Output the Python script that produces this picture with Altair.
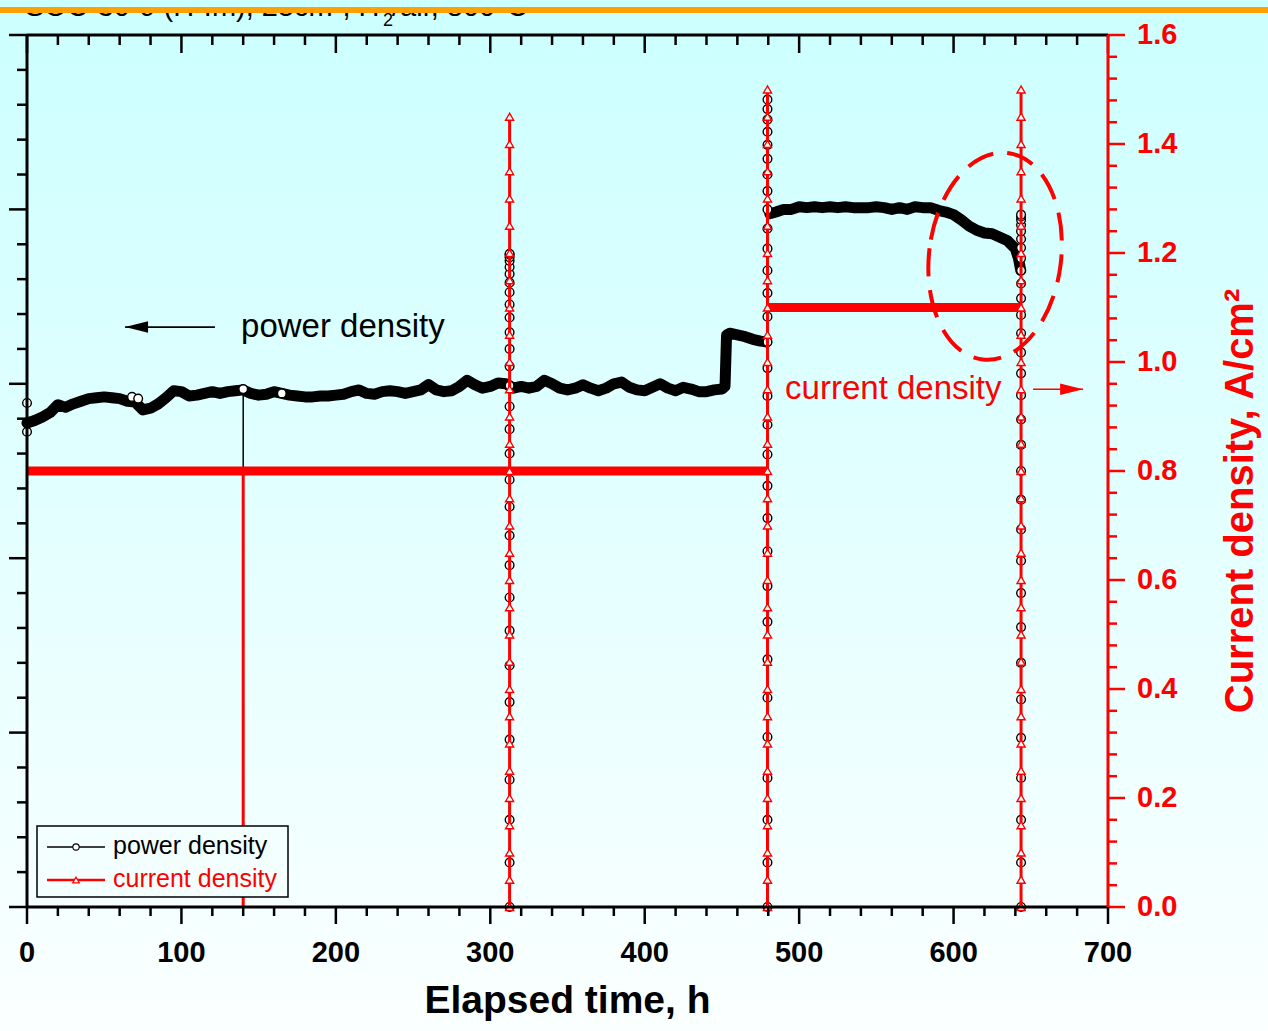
import altair as alt
import pandas as pd

FONT = "Liberation Sans"
W, H = 1081, 872
RED = "#ff0000"

# ---------------- data ----------------
time_h = [0, 5, 10, 15, 20, 25, 30, 35, 40, 45,
          50, 55, 60, 65, 70, 75, 80, 85, 90, 95,
          100, 105, 110, 115, 120, 125, 130, 135, 140, 145,
          150, 155, 160, 165, 170, 175, 180, 185, 190, 195,
          200, 205, 210, 215, 220, 225, 230, 235, 240, 245,
          250, 255, 260, 265, 270, 275, 280, 285, 290, 295,
          300, 305, 310, 315, 320, 325, 330, 335, 340, 345,
          350, 355, 360, 365, 370, 375, 380, 385, 390, 395,
          400, 405, 410, 415, 420, 425, 430, 435, 440, 445,
          450, 452, 453, 455, 460, 465, 470, 475, 479, 481,
          485, 490, 495, 500, 505, 510, 515, 520, 525, 530,
          535, 540, 545, 550, 555, 560, 565, 570, 575, 580,
          585, 590, 595, 600, 605, 610, 615, 620, 625, 630,
          635, 640, 642, 643.5]
power = [0.555, 0.558, 0.562, 0.567, 0.576, 0.573, 0.577, 0.580, 0.583, 0.584,
         0.585, 0.584, 0.583, 0.580, 0.579, 0.570, 0.572, 0.577, 0.584, 0.592,
         0.591, 0.586, 0.587, 0.589, 0.591, 0.589, 0.591, 0.592, 0.593, 0.589,
         0.587, 0.588, 0.591, 0.589, 0.587, 0.586, 0.585, 0.585, 0.586, 0.586,
         0.587, 0.588, 0.591, 0.593, 0.589, 0.588, 0.591, 0.592, 0.591, 0.589,
         0.591, 0.593, 0.599, 0.593, 0.591, 0.592, 0.597, 0.604, 0.599, 0.595,
         0.597, 0.601, 0.600, 0.595, 0.597, 0.595, 0.597, 0.604, 0.600, 0.595,
         0.593, 0.595, 0.599, 0.595, 0.592, 0.595, 0.600, 0.602, 0.596, 0.593,
         0.592, 0.596, 0.600, 0.595, 0.592, 0.596, 0.594, 0.591, 0.591, 0.593,
         0.594, 0.597, 0.656, 0.658, 0.656, 0.654, 0.651, 0.649, 0.648, 0.795,
         0.797, 0.800, 0.800, 0.803, 0.802, 0.803, 0.802, 0.803, 0.802, 0.803,
         0.802, 0.802, 0.802, 0.803, 0.802, 0.800, 0.802, 0.800, 0.803, 0.802,
         0.802, 0.799, 0.797, 0.794, 0.788, 0.781, 0.776, 0.773, 0.772, 0.768,
         0.764, 0.755, 0.744, 0.730]

extra_t = [0, 0, 68, 72, 140, 165]
extra_p = [0.578, 0.545, 0.585, 0.583, 0.594, 0.589]

sweep_times = [312.5, 479.5, 643.7]
sweep_current_1 = [0.00, 0.05, 0.10, 0.15, 0.20, 0.25, 0.30, 0.35, 0.40, 0.45,
                   0.50, 0.55, 0.60, 0.65, 0.70, 0.75, 0.80, 0.85, 0.90, 0.95,
                   1.00, 1.05, 1.10, 1.15, 1.20, 1.25, 1.30, 1.35, 1.40, 1.45]
sweep_power_1 = [0.000, 0.051, 0.100, 0.146, 0.192, 0.235, 0.277, 0.317, 0.355, 0.392,
                 0.426, 0.459, 0.490, 0.520, 0.548, 0.574, 0.598, 0.620, 0.640, 0.659,
                 0.676, 0.691, 0.705, 0.716, 0.726, 0.734, 0.741, 0.745, 0.748, 0.749]
sweep_current_2 = [0.00, 0.05, 0.10, 0.15, 0.20, 0.25, 0.30, 0.35, 0.40, 0.45,
                   0.50, 0.55, 0.60, 0.65, 0.70, 0.75, 0.80, 0.85, 0.90, 0.95,
                   1.00, 1.05, 1.10, 1.15, 1.20, 1.25, 1.30, 1.35, 1.40, 1.45, 1.50]
sweep_power_2 = [0.000, 0.051, 0.100, 0.148, 0.195, 0.240, 0.284, 0.327, 0.368, 0.408,
                 0.446, 0.483, 0.519, 0.553, 0.586, 0.618, 0.648, 0.677, 0.704, 0.730,
                 0.755, 0.778, 0.800, 0.821, 0.840, 0.858, 0.874, 0.889, 0.903, 0.915, 0.926]
sweep_current_3 = [0.00, 0.05, 0.10, 0.15, 0.20, 0.25, 0.30, 0.35, 0.40, 0.45,
                   0.50, 0.55, 0.60, 0.65, 0.70, 0.75, 0.80, 0.85, 0.90, 0.95,
                   1.00, 1.05, 1.10, 1.15, 1.20, 1.25, 1.30, 1.35, 1.40, 1.45, 1.50]
sweep_power_3 = [0.000, 0.051, 0.100, 0.148, 0.194, 0.238, 0.280, 0.321, 0.360, 0.397,
                 0.433, 0.467, 0.500, 0.530, 0.559, 0.587, 0.612, 0.636, 0.658, 0.679,
                 0.698, 0.715, 0.730, 0.744, 0.756, 0.766, 0.775, 0.782, 0.788, 0.792, 0.794]

hold_start = [0, 479.5]
hold_end = [479.5, 643.7]
hold_current = [0.8, 1.1]

interrupt_time = [140]
interrupt_power = [0.593]
interrupt_current = [0.8]

x_major = [0, 100, 200, 300, 400, 500, 600, 700]
x_labels = ["0", "100", "200", "300", "400", "500", "600", "700"]
x_minor = [v for v in range(0, 701, 20) if v not in x_major]
yl_major = [0.0, 0.2, 0.4, 0.6, 0.8, 1.0]
yl_minor = [round(i * 0.04, 2) for i in range(26) if i % 5 != 0]
yr_major = [0.0, 0.2, 0.4, 0.6, 0.8, 1.0, 1.2, 1.4, 1.6]
yr_labels = ["0.0", "0.2", "0.4", "0.6", "0.8", "1.0", "1.2", "1.4", "1.6"]
yr_minor = [round(i * 0.04, 2) for i in range(41) if i % 5 != 0]

x_title = "Elapsed time, h"
yr_title = "Current density, A/cm\u00b2"
legend_labels = ["power density", "current density"]
title_text = ["SOC-30-9 (H-Im), 25cm\u00b2, H", "2", "/air, 800\u00b0C"]

# ---------------- tables ----------------
steady = pd.DataFrame({"t": time_h, "p": power})
steady["band"] = ["A" if t < 480 else "B" for t in time_h]
extras = pd.DataFrame({"t": extra_t, "p": extra_p})
rows = []
for t0, cur, pw in zip(sweep_times,
                       [sweep_current_1, sweep_current_2, sweep_current_3],
                       [sweep_power_1, sweep_power_2, sweep_power_3]):
    for c, p in zip(cur, pw):
        rows.append({"t": t0, "i": c, "p": p})
sweeps = pd.DataFrame(rows)
sweep_lines = pd.DataFrame({"t": sweep_times,
                            "top": [max(sweep_current_1), max(sweep_current_2), max(sweep_current_3)],
                            "bottom": [0.0, 0.0, 0.0]})
holds = pd.DataFrame({"t0": hold_start, "t1": hold_end, "i": hold_current})
interrupt = pd.DataFrame({"t": interrupt_time, "p": interrupt_power,
                          "i": interrupt_current, "zero": [0.0]})
one = pd.DataFrame({"a": [0]})

xs = alt.Scale(domain=[0, 700], nice=False, zero=False)
yps = alt.Scale(domain=[0, 1], nice=False)
ycs = alt.Scale(domain=[0, 1.6], nice=False)


def X(f):
    return alt.X(f, scale=xs, axis=None)


def YP(f):
    return alt.Y(f, scale=yps, axis=None)


def YC(f):
    return alt.Y(f, scale=ycs, axis=None)


# ---------------- decoration ----------------
bg = alt.Chart(one).mark_rect(
    fill=alt.LinearGradient(gradient="linear",
                            stops=[alt.GradientStop(color="#ccffff", offset=0),
                                   alt.GradientStop(color="#fbffff", offset=1)],
                            x1=0, x2=0, y1=0, y2=1)
).encode(x=alt.value(-27), x2=alt.value(W + 160), y=alt.value(-35), y2=alt.value(H + 124))

t_df = pd.DataFrame({"txt": title_text, "px": [-2, 356, 365], "py": [-19, -9, -19]})
title_main = alt.Chart(t_df.iloc[[0, 2]]).mark_text(
    align="left", baseline="alphabetic", font=FONT, fontSize=29, color="black"
).encode(x=alt.X("px:Q", scale=None), y=alt.Y("py:Q", scale=None), text="txt:N")
title_sub = alt.Chart(t_df.iloc[[1]]).mark_text(
    align="left", baseline="alphabetic", font=FONT, fontSize=18, color="black"
).encode(x=alt.X("px:Q", scale=None), y=alt.Y("py:Q", scale=None), text="txt:N")
cover = alt.Chart(one).mark_rect(fill="#ccffff").encode(
    x=alt.value(-27), x2=alt.value(W + 160), y=alt.value(-35), y2=alt.value(-27))
orange = alt.Chart(one).mark_rule(color="#ffa000", strokeWidth=6).encode(
    x=alt.value(-27), x2=alt.value(W + 160), y=alt.value(-25))

# ---------------- power layer (left axis) ----------------
p_interrupt = alt.Chart(interrupt).mark_rule(color="black", strokeWidth=1.5).encode(
    x=X("t:Q"), y=YP("p:Q"), y2="zero:Q")
p_band = alt.Chart(steady).mark_line(color="black", strokeWidth=11, strokeCap="round",
                                     strokeJoin="round").encode(
    x=X("t:Q"), y=YP("p:Q"), detail="band:N")
p_sweep = alt.Chart(sweeps).mark_circle(fill="white", stroke="black", strokeWidth=1.4,
                                        size=75, opacity=1).encode(x=X("t:Q"), y=YP("p:Q"))
p_extra = alt.Chart(extras).mark_circle(fill="white", stroke="black", strokeWidth=1.4,
                                        size=75, opacity=1).encode(x=X("t:Q"), y=YP("p:Q"))

ann_p = pd.DataFrame({"t": [138.6], "p": [0.665], "txt": ["power density"],
                      "a0": [63.5], "a1": [121.7]})
p_text = alt.Chart(ann_p).mark_text(align="left", baseline="middle", font=FONT,
                                    fontSize=33, color="black").encode(
    x=X("t:Q"), y=YP("p:Q"), text="txt:N")
p_arrow = alt.Chart(ann_p).mark_rule(color="black", strokeWidth=1.6).encode(
    x=X("a0:Q"), x2="a1:Q", y=YP("p:Q"))
p_head = alt.Chart(ann_p).mark_point(shape="M 0 0 L 2 -0.5 L 2 0.5 Z", size=529,
                                     filled=True, color="black", opacity=1).encode(
    x=X("a0:Q"), y=YP("p:Q"))

yl_maj_t = alt.Chart(pd.DataFrame({"v": yl_major})).mark_rule(color="black", strokeWidth=2.5).encode(
    y=YP("v:Q"), x=alt.value(-18), x2=alt.value(0))
yl_min_t = alt.Chart(pd.DataFrame({"v": yl_minor})).mark_rule(color="black", strokeWidth=2.5).encode(
    y=YP("v:Q"), x=alt.value(-10), x2=alt.value(0))

power_layer = alt.layer(p_interrupt, p_band, p_sweep, p_extra, p_text, p_arrow, p_head,
                        yl_maj_t, yl_min_t)

# ---------------- current layer (right axis) ----------------
c_hold = alt.Chart(holds).mark_rule(color=RED, strokeWidth=9).encode(
    x=X("t0:Q"), x2="t1:Q", y=YC("i:Q"))
c_interrupt = alt.Chart(interrupt).mark_rule(color=RED, strokeWidth=3).encode(
    x=X("t:Q"), y=YC("i:Q"), y2="zero:Q")
c_sweepline = alt.Chart(sweep_lines).mark_rule(color=RED, strokeWidth=3).encode(
    x=X("t:Q"), y=YC("bottom:Q"), y2="top:Q")
c_tri = alt.Chart(sweeps).mark_point(shape="triangle-up", filled=True, fill="white",
                                     stroke=RED, strokeWidth=1.4, size=66, opacity=1).encode(
    x=X("t:Q"), y=YC("i:Q"))

ann_c = pd.DataFrame({"t": [490.9], "i": [0.950], "txt": ["current density"],
                      "a0": [651.5], "a1": [683.9], "et": [626.9], "ei": [1.194]})
c_text = alt.Chart(ann_c).mark_text(align="left", baseline="middle", font=FONT,
                                    fontSize=33, color=RED).encode(
    x=X("t:Q"), y=YC("i:Q"), text="txt:N")
c_arrow = alt.Chart(ann_c).mark_rule(color=RED, strokeWidth=1.6).encode(
    x=X("a0:Q"), x2="a1:Q", y=YC("i:Q"))
c_head = alt.Chart(ann_c).mark_point(shape="M 0 0 L -2 -0.5 L -2 0.5 Z", size=529,
                                     filled=True, color=RED, opacity=1).encode(
    x=X("a1:Q"), y=YC("i:Q"))
c_ellipse = alt.Chart(ann_c).mark_point(
    shape="M -0.635 0 A 0.635 1 0 1 0 0.635 0 A 0.635 1 0 1 0 -0.635 0 Z",
    size=43264, angle=7, filled=False, color=RED, strokeWidth=4,
    strokeDash=[28, 14], opacity=1).encode(x=X("et:Q"), y=YC("ei:Q"))

yr_maj_t = alt.Chart(pd.DataFrame({"v": yr_major})).mark_rule(color=RED, strokeWidth=2.5).encode(
    y=YC("v:Q"), x=alt.value(W), x2=alt.value(W + 17))
yr_min_t = alt.Chart(pd.DataFrame({"v": yr_minor})).mark_rule(color=RED, strokeWidth=2.5).encode(
    y=YC("v:Q"), x=alt.value(W), x2=alt.value(W + 9))
yr_lab = alt.Chart(pd.DataFrame({"v": yr_major, "lab": yr_labels})).mark_text(
    align="left", baseline="middle", font=FONT, fontSize=29, fontWeight="bold", color=RED
).encode(y=YC("v:Q"), x=alt.value(W + 29), text="lab:N")

current_layer = alt.layer(c_hold, c_interrupt, c_sweepline, c_tri, c_text, c_arrow,
                          c_head, c_ellipse, yr_maj_t, yr_min_t, yr_lab)

# ---------------- frame, ticks, labels, titles ----------------
top_line = alt.Chart(one).mark_rule(color="black", strokeWidth=3).encode(
    x=alt.value(0), x2=alt.value(W), y=alt.value(0))
top_major = alt.Chart(pd.DataFrame({"v": x_major})).mark_rule(color="black", strokeWidth=2.5).encode(
    x=X("v:Q"), y=alt.value(0), y2=alt.value(18))
top_minor = alt.Chart(pd.DataFrame({"v": x_minor})).mark_rule(color="black", strokeWidth=2.5).encode(
    x=X("v:Q"), y=alt.value(0), y2=alt.value(10))
bot_major = alt.Chart(pd.DataFrame({"v": x_major})).mark_rule(color="black", strokeWidth=2.5).encode(
    x=X("v:Q"), y=alt.value(H), y2=alt.value(H + 17))
bot_minor = alt.Chart(pd.DataFrame({"v": x_minor})).mark_rule(color="black", strokeWidth=2.5).encode(
    x=X("v:Q"), y=alt.value(H), y2=alt.value(H + 9))
x_lab = alt.Chart(pd.DataFrame({"v": x_major, "lab": x_labels})).mark_text(
    align="center", baseline="alphabetic", font=FONT, fontSize=29, fontWeight="bold",
    color="black").encode(x=X("v:Q"), y=alt.value(H + 55), text="lab:N")
left_line = alt.Chart(one).mark_rule(color="black", strokeWidth=3).encode(
    x=alt.value(0), y=alt.value(0), y2=alt.value(H))
bottom_line = alt.Chart(one).mark_rule(color="black", strokeWidth=3).encode(
    x=alt.value(0), x2=alt.value(W), y=alt.value(H))
right_line = alt.Chart(one).mark_rule(color=RED, strokeWidth=3).encode(
    x=alt.value(W), y=alt.value(0), y2=alt.value(H))
x_title_mark = alt.Chart(pd.DataFrame({"txt": [x_title]})).mark_text(
    align="center", baseline="alphabetic", font=FONT, fontSize=39, fontWeight="bold",
    color="black").encode(x=alt.value(W / 2), y=alt.value(H + 106), text="txt:N")
yr_title_mark = alt.Chart(pd.DataFrame({"txt": [yr_title]})).mark_text(
    align="center", baseline="alphabetic", font=FONT, fontSize=40, fontWeight="bold",
    color=RED, angle=270).encode(x=alt.value(W + 145), y=alt.value(466), text="txt:N")

# ---------------- legend box ----------------
lg = pd.DataFrame({"lab": legend_labels})
leg_box = alt.Chart(one).mark_rect(fill="#f3ffff", stroke="black", strokeWidth=1.5).encode(
    x=alt.value(10), x2=alt.value(261), y=alt.value(791), y2=alt.value(862))
leg_l1 = alt.Chart(one).mark_rule(color="black", strokeWidth=1.5).encode(
    x=alt.value(20), x2=alt.value(78), y=alt.value(812))
leg_l2 = alt.Chart(one).mark_rule(color=RED, strokeWidth=2.5).encode(
    x=alt.value(20), x2=alt.value(78), y=alt.value(845))
leg_m1 = alt.Chart(one).mark_circle(fill="white", stroke="black", strokeWidth=1.1, size=40,
                                    opacity=1).encode(x=alt.value(49), y=alt.value(812))
leg_m2 = alt.Chart(one).mark_point(shape="triangle-up", filled=True, fill="white", stroke=RED,
                                   strokeWidth=1.2, size=45, opacity=1).encode(
    x=alt.value(49), y=alt.value(845))
leg_t1 = alt.Chart(lg.iloc[[0]]).mark_text(align="left", baseline="middle", font=FONT,
                                           fontSize=25, color="black").encode(
    x=alt.value(86), y=alt.value(811), text="lab:N")
leg_t2 = alt.Chart(lg.iloc[[1]]).mark_text(align="left", baseline="middle", font=FONT,
                                           fontSize=25, color=RED).encode(
    x=alt.value(86), y=alt.value(844), text="lab:N")

chart = alt.layer(
    bg, title_main, title_sub, cover, orange,
    power_layer, current_layer,
    top_line, top_major, top_minor, bot_major, bot_minor, x_lab,
    left_line, bottom_line, right_line, x_title_mark, yr_title_mark,
    leg_box, leg_l1, leg_l2, leg_m1, leg_m2, leg_t1, leg_t2,
).resolve_scale(y="independent").properties(
    width=W, height=H,
    padding={"left": 27, "top": 35, "right": 160, "bottom": 124},
    autosize=alt.AutoSizeParams(type="none"),
).configure_view(strokeWidth=0)

chart.save("out.html", embed_options={"renderer": "svg", "actions": False})
